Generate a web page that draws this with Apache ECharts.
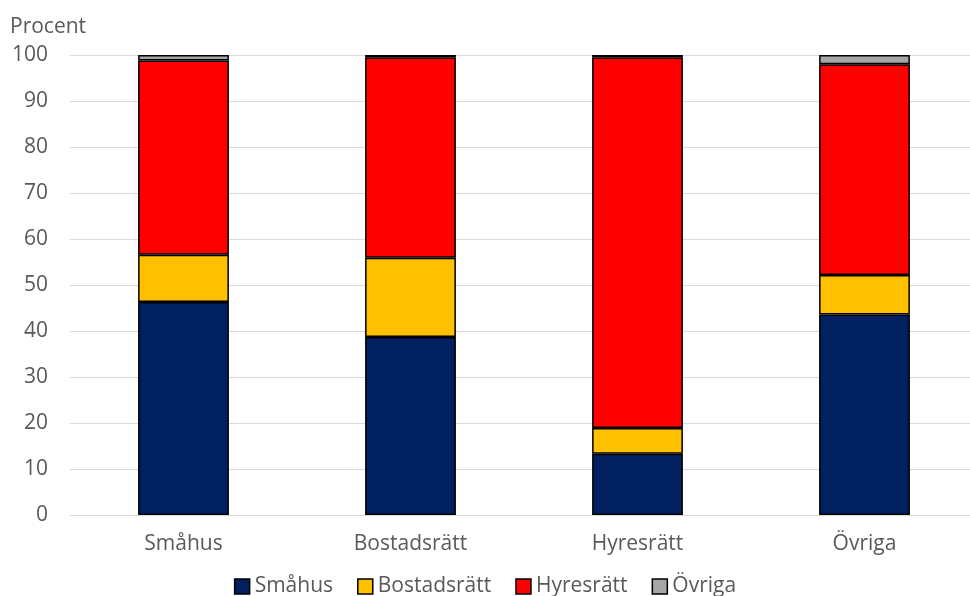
<!DOCTYPE html>
<html><head><meta charset="utf-8">
<script src="https://cdn.jsdelivr.net/npm/echarts@6/dist/echarts.min.js"></script>
<style>html,body{margin:0;padding:0;background:#fff}#c{width:970px;height:596px}</style>
</head><body><div id="c"></div>
<script>
const categories = ['Småhus', 'Bostadsrätt', 'Hyresrätt', 'Övriga'];
const smahus = [46.3, 38.7, 13.3, 43.6];
const bostadsratt = [10.3, 17.2, 5.6, 8.6];
const hyresratt = [42.2, 43.6, 80.6, 45.8];
const ovriga = [1.2, 0.5, 0.5, 2.0];
const seriesNames = ['Småhus', 'Bostadsrätt', 'Hyresrätt', 'Övriga'];
const colors = ['#002060', '#FFC000', '#FF0000', '#A6A6A6'];
const yTicks = { min: 0, max: 100, interval: 10 };

const font = 'Open Sans';
const fs = 21;
const chart = echarts.init(document.getElementById('c'), null, { renderer: 'canvas' });
const data = [smahus, bostadsratt, hyresratt, ovriga];
chart.setOption({
  animation: false,
  textStyle: { fontFamily: font },
  grid: { left: 70, right: -8, top: 55, bottom: 81, containLabel: false, outerBoundsMode: 'none' },
  legend: {
    bottom: -6, left: 'center', itemWidth: 15, itemHeight: 15, itemGap: 24,
    textStyle: { fontSize: fs, color: '#595959', fontFamily: font },
    data: seriesNames.map(n => ({ name: n, icon: 'rect', itemStyle: { borderColor: '#000', borderWidth: 1.5 } }))
  },
  xAxis: {
    type: 'category', data: categories,
    axisLine: { lineStyle: { color: '#D9D9D9' } },
    axisTick: { show: false },
    axisLabel: { fontSize: fs, color: '#595959', margin: 19, fontFamily: font }
  },
  yAxis: {
    type: 'value', min: yTicks.min, max: yTicks.max, interval: yTicks.interval,
    name: 'Procent', nameLocation: 'end', nameGap: 17,
    nameTextStyle: { fontSize: fs, color: '#595959', align: 'left', padding: [0, 0, 0, -60], fontFamily: font },
    axisLine: { show: false }, axisTick: { show: false },
    splitLine: { lineStyle: { color: '#D9D9D9' } },
    axisLabel: { fontSize: fs, color: '#595959', margin: 22, fontFamily: font }
  },
  series: seriesNames.map((n, i) => ({
    name: n, type: 'bar', stack: 'all', data: data[i], barWidth: '40%',
    itemStyle: { color: colors[i], borderColor: '#000', borderWidth: 1.5 }
  }))
});
</script></body></html>
